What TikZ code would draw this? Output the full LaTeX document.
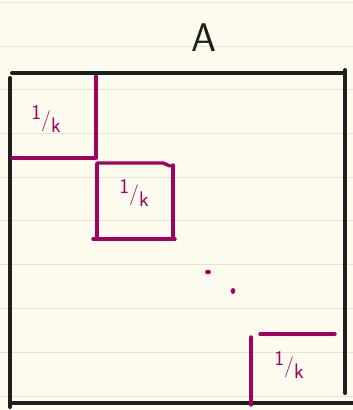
\documentclass[tikz,border=0pt]{standalone}
\usepackage{tikz}
\usetikzlibrary{positioning}
\definecolor{paper}{HTML}{FDFBEE}
\definecolor{ruleline}{HTML}{E6E3D5}
\definecolor{inkblack}{HTML}{1E1E1E}
\definecolor{blockmag}{HTML}{A3005F}
\newcommand{\blockfrac}{\raisebox{0.35em}{1}/\raisebox{-0.3em}{k}}

\begin{document}
\begin{tikzpicture}[x=1pt,y=-1pt,line cap=round,
  matline/.style={inkblack,line width=4pt},
  blockline/.style={blockmag,line width=3.4pt},
  blocklab/.style={blockmag,font=\fontsize{21}{21}\selectfont\sffamily,inner sep=0pt}]

% paper with ruled lines
\fill[paper] (0,0) rectangle (353,410);
\useasboundingbox (0,0) rectangle (353,410);
\foreach \y in {2,46,89,133,177,220,264,308,352,396}
  \draw[ruleline,line width=1pt,line cap=butt] (0,\y) -- (353,\y);

% matrix A
\node[inkblack,font=\fontsize{40}{40}\selectfont\sffamily] (title) at (204,38) {A};
\draw[matline] (12,73) -- (345,73);
\draw[matline] (345,70) -- (345,393);
\draw[matline] (10,78) -- (10,407);
\draw[matline,line cap=butt] (10,403) -- (353,403);

% first block
\draw[blockline] (96,76) -- (96,158);
\draw[blockline] (12,158) -- (96,158);
\node[blocklab] (lab1) at (46,119) {\blockfrac};

% second block
\draw[blockline] (97,164) -- (97,237) (93,239) -- (175,239);
\draw[blockline] (97,163) -- (163,163) -- (170,166);
\draw[blockline] (173,165) -- (173,239);
\node[blocklab] (lab2) at (134,193) {\blockfrac};

% dots
\fill[blockmag] (208,272) ellipse (3pt and 2.3pt);
\fill[blockmag] (233,291) ellipse (2.3pt and 3pt);

% last block
\draw[blockline] (251,337) -- (251,405);
\draw[blockline] (260,334) -- (335,334);
\node[blocklab] (lab3) at (289,365) {\blockfrac};

\end{tikzpicture}
\end{document}
